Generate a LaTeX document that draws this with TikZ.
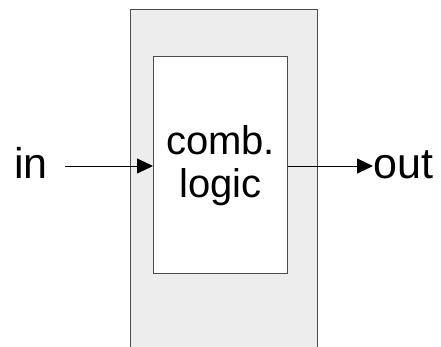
\documentclass[tikz,border=0pt]{standalone}
\usepackage{fontspec}
\setmainfont{Liberation Sans}
\usetikzlibrary{arrows.meta}

\begin{document}
\begin{tikzpicture}[x=1pt,y=1pt,
  box/.style={draw=black!70, line width=1pt, inner sep=0pt},
  lbl/.style={font=\fontsize{43}{43}\selectfont, inner sep=0pt},
  wire/.style={line width=0.9pt, -{Triangle[length=16pt,width=15pt]}}]
\useasboundingbox (0,0) rectangle (441,346);
\node[box, fill=black!7, minimum width=187pt, minimum height=347pt, anchor=north west] (stage) at (130,337) {};
\node[box, fill=white, minimum width=134pt, minimum height=216.5pt, anchor=north west] (logic) at (153,289.5) {};
\node[lbl, font=\fontsize{40}{43}\selectfont, align=center] (func) at (logic.center) {comb.\\logic};
\node[lbl, anchor=base] (inlbl) at (31,168) {in};
\node[lbl, anchor=base west] (outlbl) at (373,168) {out};
\coordinate (src) at (65,180);
\draw[wire] (src) -- (src -| logic.west);
\draw[wire] (src -| logic.east) -- (src -| outlbl.west);
\end{tikzpicture}
\end{document}
